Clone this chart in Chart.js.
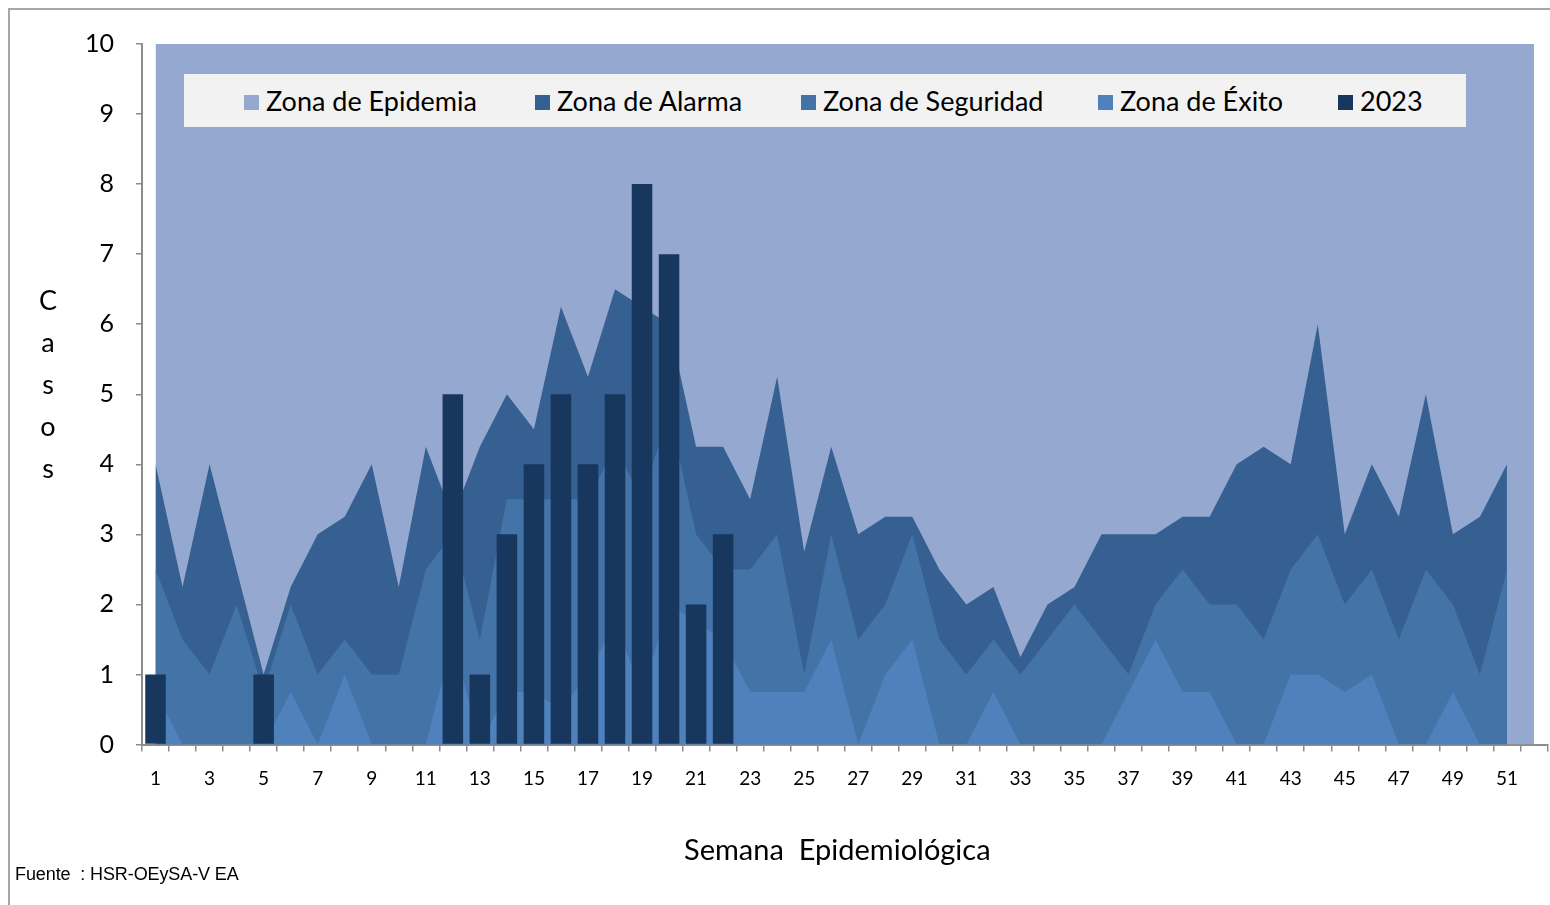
<!DOCTYPE html>
<html>
<head>
<meta charset="utf-8">
<title>Canal endémico 2023</title>
<script src="https://cdn.jsdelivr.net/npm/chart.js@4.4.0/dist/chart.umd.min.js"></script>
<style>
    body { margin: 0; background: #fff; }
    #wrap { position: relative; width: 1550px; height: 905px; overflow: hidden; font-family: Lato, sans-serif; }
    #frame { position: absolute; left: 8px; top: 8px; width: 1600px; height: 1000px; border-left: 2px solid #a6a6a6; border-top: 2px solid #a6a6a6; }
    #chart { position: absolute; left: 0; top: 0; }
    #legend { position: absolute; left: 184px; top: 74px; width: 1282px; height: 53px; background: #f2f2f2; }
    .item { position: absolute; top: 0; height: 53px; line-height: 53px; font-size: 27px; color: #000; white-space: nowrap; }
    .item i { display: inline-block; width: 15px; height: 15px; margin-right: 7px; vertical-align: 1px; }
    #ytitle { position: absolute; left: 33px; top: 279px; width: 30px; text-align: center; font-size: 27px; line-height: 42px; }
    #fuente { position: absolute; left: 15px; top: 864px; font-family: "Liberation Sans", Arial, sans-serif; font-size: 18px; letter-spacing: -0.1px; }
</style>
</head>
<body>
<div id="wrap">
    <div id="frame"></div>
    <canvas id="chart" width="1550" height="905"></canvas>
    <div id="legend"></div>
    <div id="ytitle">C<br>a<br>s<br>o<br>s</div>
    <div id="fuente">Fuente &nbsp;: HSR-OEySA-V EA</div>
</div>
<script>
// ===== Data =====
const semanas = ['1','2','3','4','5','6','7','8','9','10','11','12','13','14','15','16','17','18','19','20',
    '21','22','23','24','25','26','27','28','29','30','31','32','33','34','35','36','37','38','39','40',
    '41','42','43','44','45','46','47','48','49','50','51','52'];

// top edge of each zone, weeks 1..51 (epidemia runs to week 52)
const zonaEpidemia = [10,10,10,10,10,10,10,10,10,10,10,10,10,10,10,10,10,10,10,10,
    10,10,10,10,10,10,10,10,10,10,10,10,10,10,10,10,10,10,10,10,
    10,10,10,10,10,10,10,10,10,10,10,10];
const zonaAlarma = [4,2.25,4,2.5,1,2.25,3,3.25,4,2.25,4.25,3.25,4.25,5,4.5,6.25,5.25,6.5,6.25,6,
    4.25,4.25,3.5,5.25,2.75,4.25,3,3.25,3.25,2.5,2,2.25,1.25,2,2.25,3,3,3,3.25,3.25,
    4,4.25,4,6,3,4,3.25,5,3,3.25,4];
const zonaSeguridad = [2.5,1.5,1,2,0.75,2,1,1.5,1,1,2.5,3,1.5,3.5,3.5,3.5,3.5,4.25,3.5,4.75,
    3,2.5,2.5,3,1,3,1.5,2,3,1.5,1,1.5,1,1.5,2,1.5,1,2,2.5,2,
    2,1.5,2.5,3,2,2.5,1.5,2.5,2,1,2.5];
const zonaExito = [0.75,0,0,0,0,0.75,0,1,0,0,0,1.5,0,0.75,0.75,0.5,1,1.75,0.75,2,
    1.75,1.5,0.75,0.75,0.75,1.5,0,1,1.5,0,0,0.75,0,0,0,0,0.75,1.5,0.75,0.75,
    0,0,1,1,0.75,1,0,0,0.75,0,0];
const casos2023 = [1,0,0,0,1,0,0,0,0,0,0,5,1,3,4,5,4,5,8,7,2,3];

const yTicks = [0,1,2,3,4,5,6,7,8,9,10];

const colores = {
    epidemia: '#95a9d0',
    alarma: '#366092',
    seguridad: '#4473a8',
    exito: '#4f81bd',
    casos: '#17375e'
};

// ===== Legend (HTML, drawn over the plot like the original) =====
const legendItems = [
    { text: 'Zona de Epidemia', color: colores.epidemia, left: 60 },
    { text: 'Zona de Alarma', color: colores.alarma, left: 351 },
    { text: 'Zona de Seguridad', color: colores.seguridad, left: 617 },
    { text: 'Zona de Éxito', color: colores.exito, left: 914 },
    { text: '2023', color: colores.casos, left: 1154 }
];
const legendEl = document.getElementById('legend');
legendItems.forEach(it => {
    const d = document.createElement('div');
    d.className = 'item';
    d.style.left = it.left + 'px';
    d.innerHTML = `<i style="background:${it.color}"></i>${it.text}`;
    legendEl.appendChild(d);
});

function zona(data, color, order) {
    return {
        type: 'line',
        data: data,
        backgroundColor: color,
        borderColor: color,
        borderWidth: 0,
        pointRadius: 0,
        tension: 0,
        fill: 'origin',
        order: order
    };
}

const ctx = document.getElementById('chart').getContext('2d');
new Chart(ctx, {
    type: 'bar',
    data: {
        labels: semanas,
        datasets: [
            zona(zonaEpidemia, colores.epidemia, 5),
            zona(zonaAlarma, colores.alarma, 4),
            zona(zonaSeguridad, colores.seguridad, 3),
            zona(zonaExito, colores.exito, 2),
            {
                type: 'bar',
                data: casos2023,
                backgroundColor: colores.casos,
                borderWidth: 0,
                barPercentage: 0.76,
                categoryPercentage: 1,
                order: 1
            }
        ]
    },
    options: {
        responsive: false,
        animation: false,
        layout: { padding: { top: 44, right: 2, left: 0, bottom: 0 } },
        plugins: {
            legend: { display: false },
            tooltip: { enabled: false }
        },
        scales: {
            x: {
                offset: true,
                grid: {
                    offset: true,
                    drawOnChartArea: false,
                    drawTicks: true,
                    tickLength: 7,
                    color: '#8c8c8c',
                    lineWidth: 1.5
                },
                border: { color: '#8c8c8c', width: 2 },
                ticks: {
                    autoSkip: false,
                    maxRotation: 0,
                    padding: 16,
                    color: '#000',
                    font: { family: 'Lato', size: 19 },
                    callback: function (value, index) {
                        return index % 2 === 0 ? semanas[index] : '';
                    }
                },
                title: {
                    display: true,
                    text: 'Semana  Epidemiológica\u00a0\u00a0',
                    color: '#000',
                    font: { family: 'Lato', size: 29 },
                    padding: { top: 0, bottom: 37 }
                },
                afterFit: function (scale) { scale.height = 160.5; }
            },
            y: {
                min: 0,
                max: 10,
                afterBuildTicks: function (scale) {
                    scale.ticks = yTicks.map(v => ({ value: v }));
                },
                grid: {
                    drawOnChartArea: false,
                    drawTicks: true,
                    tickLength: 6,
                    color: '#8c8c8c',
                    lineWidth: 1.5
                },
                border: { color: '#8c8c8c', width: 2 },
                ticks: {
                    padding: 22,
                    color: '#000',
                    font: { family: 'Lato', size: 25 }
                },
                afterFit: function (scale) { scale.width = 142; }
            }
        }
    }
});
</script>
</body>
</html>
